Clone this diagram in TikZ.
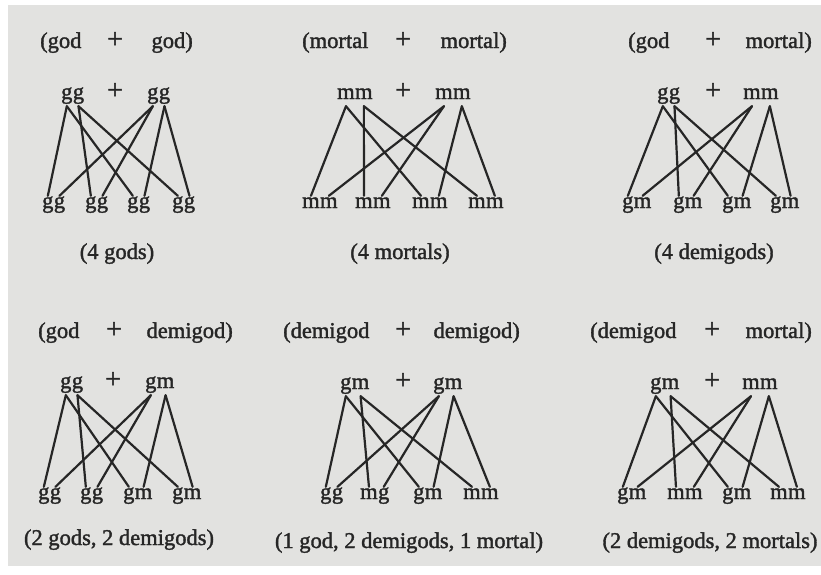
\documentclass[tikz,border=0pt]{standalone}
\usepackage{fontspec}
\setmainfont{Liberation Serif}[FakeBold=1.6]
\definecolor{paper}{RGB}{226,226,224}
\definecolor{ink}{RGB}{38,38,38}
\tikzset{
  txt/.style={inner sep=0pt, text=ink, font=\fontsize{22.5}{27}\selectfont},
  plus/.style={txt, font=\fontsize{28}{30}\selectfont},
  gene/.style={txt, inner xsep=0pt, inner ysep=2pt, text height=10pt, text depth=5pt},
  link/.style={draw=ink, line width=2.2pt, line cap=round},
}
\newcommand\genepair[5]{%
  \node[gene,anchor=base west] (#1a) at (#2,#3) {#4};
  \node[gene,anchor=base west] (#1b) at (#1a.base east) {#5};}
\newcommand\crosslines[1]{%
  \draw[link] (#1La.south) -- (#11a.north);
  \draw[link] (#1La.south) -- (#13a.north);
  \draw[link] (#1Lb.south) -- (#12a.north);
  \draw[link] (#1Lb.south) -- (#14a.north);
  \draw[link] (#1Ra.south) -- (#11b.north);
  \draw[link] (#1Ra.south) -- (#12b.north);
  \draw[link] (#1Rb.south) -- (#13b.north);
  \draw[link] (#1Rb.south) -- (#14b.north);}
\begin{document}
\begin{tikzpicture}[x=1pt,y=-1pt]
\useasboundingbox (0,0) rectangle (821,574);
\fill[white] (0,0) rectangle (821,574);
\fill[paper] (8,5) rectangle (821,566);

% ---------- Panel A: god + god ----------
\node[txt,anchor=base west] (Ahl) at (40,48) {(god};
\node[plus,anchor=base] (Ahp) at (115,48) {+};
\node[txt,anchor=base east] (Ahr) at (193,48) {god)};
\genepair{AL}{61}{99}{g}{g}
\node[plus,anchor=base] (Ap) at (115,99) {+};
\genepair{AR}{147}{99}{g}{g}
\genepair{A1}{42}{208}{g}{g}
\genepair{A2}{85}{208}{g}{g}
\genepair{A3}{127}{208}{g}{g}
\genepair{A4}{172}{208}{g}{g}
\crosslines{A}
\node[txt,anchor=base] (Acap) at (117,259) {(4 gods)};

% ---------- Panel B: mortal + mortal ----------
\node[txt,anchor=base west] (Bhl) at (302,48) {(mortal};
\node[plus,anchor=base] (Bhp) at (403,48) {+};
\node[txt,anchor=base east] (Bhr) at (507,48) {mortal)};
\genepair{BL}{337}{99}{m}{m}
\node[plus,anchor=base] (Bp) at (403,99) {+};
\genepair{BR}{435}{99}{m}{m}
\genepair{B1}{302}{208}{m}{m}
\genepair{B2}{355}{208}{m}{m}
\genepair{B3}{412}{208}{m}{m}
\genepair{B4}{468}{208}{m}{m}
\crosslines{B}
\node[txt,anchor=base] (Bcap) at (400,259) {(4 mortals)};

% ---------- Panel C: god + mortal ----------
\node[txt,anchor=base west] (Chl) at (628,48) {(god};
\node[plus,anchor=base] (Chp) at (713,48) {+};
\node[txt,anchor=base east] (Chr) at (812,48) {mortal)};
\genepair{CL}{657}{99}{g}{g}
\node[plus,anchor=base] (Cp) at (713,99) {+};
\genepair{CR}{743}{99}{m}{m}
\genepair{C1}{622}{208}{g}{m}
\genepair{C2}{673}{208}{g}{m}
\genepair{C3}{722}{208}{g}{m}
\genepair{C4}{770}{208}{g}{m}
\crosslines{C}
\node[txt,anchor=base] (Ccap) at (714,259) {(4 demigods)};

% ---------- Panel D: god + demigod ----------
\node[txt,anchor=base west] (Dhl) at (38,338) {(god};
\node[plus,anchor=base] (Dhp) at (114,338) {+};
\node[txt,anchor=base east] (Dhr) at (233,338) {demigod)};
\genepair{DL}{60}{388}{g}{g}
\node[plus,anchor=base] (Dp) at (113,388) {+};
\genepair{DR}{145}{388}{g}{m}
\genepair{D1}{38}{499}{g}{g}
\genepair{D2}{80}{499}{g}{g}
\genepair{D3}{123}{499}{g}{m}
\genepair{D4}{172}{499}{g}{m}
\crosslines{D}
\node[txt,anchor=base] (Dcap) at (119,545) {(2 gods, 2 demigods)};

% ---------- Panel E: demigod + demigod ----------
\node[txt,anchor=base west] (Ehl) at (283,338) {(demigod};
\node[plus,anchor=base] (Ehp) at (403,338) {+};
\node[txt,anchor=base east] (Ehr) at (520,338) {demigod)};
\genepair{EL}{340}{389}{g}{m}
\node[plus,anchor=base] (Ep) at (403,389) {+};
\genepair{ER}{433}{389}{g}{m}
\genepair{E1}{320}{499}{g}{g}
\genepair{E2}{360}{499}{m}{g}
\genepair{E3}{413}{499}{g}{m}
\genepair{E4}{463}{499}{m}{m}
\crosslines{E}
\node[txt,anchor=base] (Ecap) at (409,548) {(1 god, 2 demigods, 1 mortal)};

% ---------- Panel F: demigod + mortal ----------
\node[txt,anchor=base west] (Fhl) at (590,338) {(demigod};
\node[plus,anchor=base] (Fhp) at (712,338) {+};
\node[txt,anchor=base east] (Fhr) at (812,338) {mortal)};
\genepair{FL}{650}{389}{g}{m}
\node[plus,anchor=base] (Fp) at (712,389) {+};
\genepair{FR}{742}{389}{m}{m}
\genepair{F1}{617}{499}{g}{m}
\genepair{F2}{667}{499}{m}{m}
\genepair{F3}{722}{499}{g}{m}
\genepair{F4}{770}{499}{m}{m}
\crosslines{F}
\node[txt,anchor=base] (Fcap) at (710,548) {(2 demigods, 2 mortals)};
\end{tikzpicture}
\end{document}
